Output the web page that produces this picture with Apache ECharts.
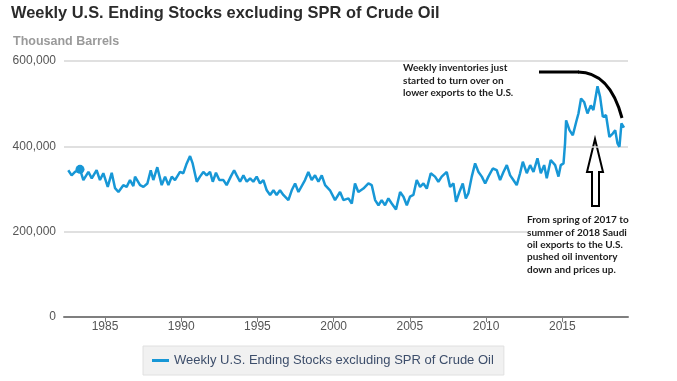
<!DOCTYPE html>
<html>
<head>
<meta charset="utf-8">
<script src="https://cdn.jsdelivr.net/npm/echarts@6/dist/echarts.min.js"></script>
<style>
html,body{margin:0;padding:0;background:#fff;}
#chart{width:677px;height:381px;}
</style>
</head>
<body>
<div id="chart"></div>
<script>
const titleText = 'Weekly U.S. Ending Stocks excluding SPR of Crude Oil';
const unitText = 'Thousand Barrels';
const seriesName = 'Weekly U.S. Ending Stocks excluding SPR of Crude Oil';
const xTickYears = [1985, 1990, 1995, 2000, 2005, 2010, 2015];
const yTicks = [0, 200000, 400000, 600000];
const years = [1982.59,1982.81,1983.03,1983.36,1983.58,1983.91,1984.13,1984.45,1984.67,1984.89,
1985.18,1985.44,1985.66,1985.88,1986.20,1986.42,1986.64,1986.86,1986.97,1987.30,1987.52,1987.78,
1988.00,1988.17,1988.43,1988.72,1988.94,1989.16,1989.38,1989.59,1989.92,1990.14,1990.36,1990.58,
1990.75,1991.02,1991.23,1991.45,1991.67,1991.89,1992.07,1992.28,1992.50,1992.77,1992.98,1993.25,
1993.47,1993.64,1993.86,1994.08,1994.30,1994.52,1994.73,1994.95,1995.17,1995.39,1995.61,1995.83,
1996.05,1996.26,1996.48,1996.70,1997.03,1997.25,1997.47,1997.69,1998.12,1998.34,1998.56,1998.78,
1999.00,1999.22,1999.44,1999.76,2000.09,2000.42,2000.64,2000.97,2001.19,2001.40,2001.62,2001.95,
2002.28,2002.50,2002.72,2002.94,2003.15,2003.37,2003.59,2003.81,2004.09,2004.36,2004.58,2004.80,
2005.01,2005.23,2005.45,2005.67,2005.89,2006.11,2006.37,2006.65,2006.87,2007.09,2007.42,2007.64,
2007.86,2008.03,2008.25,2008.47,2008.67,2008.84,2009.06,2009.28,2009.50,2009.72,2009.94,2010.15,
2010.44,2010.70,2010.92,2011.14,2011.36,2011.58,2011.79,2012.01,2012.23,2012.41,2012.67,2012.89,
2013.11,2013.37,2013.59,2013.81,2013.98,2014.24,2014.53,2014.75,2014.90,2015.08,2015.18,2015.25,
2015.47,2015.69,2015.91,2016.06,2016.23,2016.43,2016.65,2016.87,2017.04,2017.31,2017.48,2017.66,
2017.87,2018.09,2018.31,2018.47,2018.62,2018.75,2018.88,2019.05];
const stocks = [344000,332000,340000,346000,321000,340000,325000,344000,321000,337000,
305000,338000,302000,293000,309000,305000,321000,307000,329000,309000,305000,313000,
344000,321000,351000,309000,329000,309000,329000,321000,340000,337000,360000,377000,
360000,317000,329000,340000,332000,340000,317000,338000,321000,321000,309000,329000,
344000,332000,317000,332000,317000,325000,317000,329000,313000,321000,297000,286000,
297000,286000,297000,286000,274000,297000,313000,293000,321000,340000,321000,332000,
317000,332000,309000,297000,274000,293000,274000,278000,266000,313000,293000,301000,
313000,309000,274000,262000,274000,262000,278000,266000,252000,293000,282000,262000,
282000,286000,321000,305000,313000,301000,337000,329000,317000,329000,340000,305000,
313000,270000,293000,313000,278000,290000,329000,360000,340000,329000,313000,329000,
348000,344000,321000,340000,356000,332000,321000,309000,337000,364000,337000,356000,
340000,372000,337000,356000,325000,368000,356000,329000,356000,360000,407000,461000,
438000,426000,457000,477000,512000,504000,477000,496000,485000,541000,516000,469000,
473000,422000,430000,438000,407000,399000,454000,444000];
const highlightIndex = 3;
const noteTop = 'Weekly inventories just\nstarted to turn over on\nlower exports to the U.S.';
const noteBottom = 'From spring of 2017 to\nsummer of 2018 Saudi\noil exports to the U.S.\npushed oil inventory\ndown and prices up.';

const lineData = years.map((y, i) => [y, stocks[i]]);
const chart = echarts.init(document.getElementById('chart'), null, {renderer: 'canvas'});
const blue = '#1797d6';
const noteFont = 'bold 10px Lato, "Liberation Sans", sans-serif';

chart.setOption({
  animation: false,
  backgroundColor: '#fff',
  title: [
    {text: titleText, left: 11, top: 5, padding: 0,
     textStyle: {fontFamily: '"Liberation Sans", Arial, sans-serif', fontSize: 16.4, fontWeight: 'bold', color: '#2b2b2b'}},
    {text: unitText, left: 13, top: 35, padding: 0,
     textStyle: {fontFamily: '"Liberation Sans", Arial, sans-serif', fontSize: 12.5, fontWeight: 'bold', color: '#9a9a9a'}}
  ],
  grid: {left: 64, right: 49, top: 61, bottom: 64, containLabel: false},
  legend: {
    show: true, left: 143, top: 346,
    data: [seriesName],
    icon: 'rect', itemWidth: 17, itemHeight: 3,
    backgroundColor: '#f1f1f1', borderColor: '#e0e0e0', borderWidth: 1,
    padding: [8, 10, 8, 9],
    textStyle: {fontFamily: '"Liberation Sans", Arial, sans-serif', fontSize: 13, color: '#3d4e6b'}
  },
  xAxis: {
    type: 'value', min: 1982.31, max: 2019.31,
    axisLine: {show: true, lineStyle: {color: '#7f7f7f', width: 2}},
    axisTick: {show: true, customValues: xTickYears, length: 5, lineStyle: {color: '#7f7f7f', width: 1}},
    axisLabel: {show: true, customValues: xTickYears, formatter: v => String(Math.round(v)),
      fontFamily: '"Liberation Sans", Arial, sans-serif', fontSize: 12, color: '#555', margin: 4},
    splitLine: {show: false}
  },
  yAxis: {
    type: 'value', min: 0, max: 600000, interval: 200000,
    axisLine: {show: false}, axisTick: {show: false},
    axisLabel: {formatter: v => yTicks.includes(v) ? v.toLocaleString('en-US') : '',
      fontFamily: '"Liberation Sans", Arial, sans-serif', fontSize: 12, color: '#555', margin: 8},
    splitLine: {lineStyle: {color: '#d6d6d6', width: 1.5}}
  },
  series: [{
    name: seriesName, type: 'line', data: lineData,
    showSymbol: false, symbol: 'none',
    lineStyle: {color: blue, width: 2.5},
    itemStyle: {color: blue},
    markPoint: {
      symbol: 'circle', symbolSize: 9, label: {show: false},
      itemStyle: {color: blue},
      data: [{coord: lineData[highlightIndex]}]
    }
  }],
  graphic: [
    {type: 'text', left: 403, top: 62, style: {text: noteTop, font: noteFont, fill: '#1c1c1c', lineHeight: 12.5}},
    {type: 'text', left: 527, top: 214, z: 100,
     style: {text: noteBottom, font: noteFont, fill: '#1c1c1c', lineHeight: 12.3, backgroundColor: '#fff', padding: [0, 4, 0, 0]}},
    {type: 'line', shape: {x1: 539, y1: 72, x2: 579, y2: 72}, style: {stroke: '#000', lineWidth: 3}},
    {type: 'bezierCurve', shape: {x1: 578, y1: 72, cpx1: 600, cpy1: 72, cpx2: 614, cpy2: 88, x2: 622, y2: 118},
     style: {stroke: '#000', lineWidth: 3, fill: null}},
    {type: 'polygon', shape: {points: [[595, 139], [603, 172], [599, 172], [599, 206], [592, 206], [592, 172], [587, 172]]},
     style: {stroke: '#000', lineWidth: 2, fill: '#fff'}}
  ]
});
</script>
</body>
</html>
